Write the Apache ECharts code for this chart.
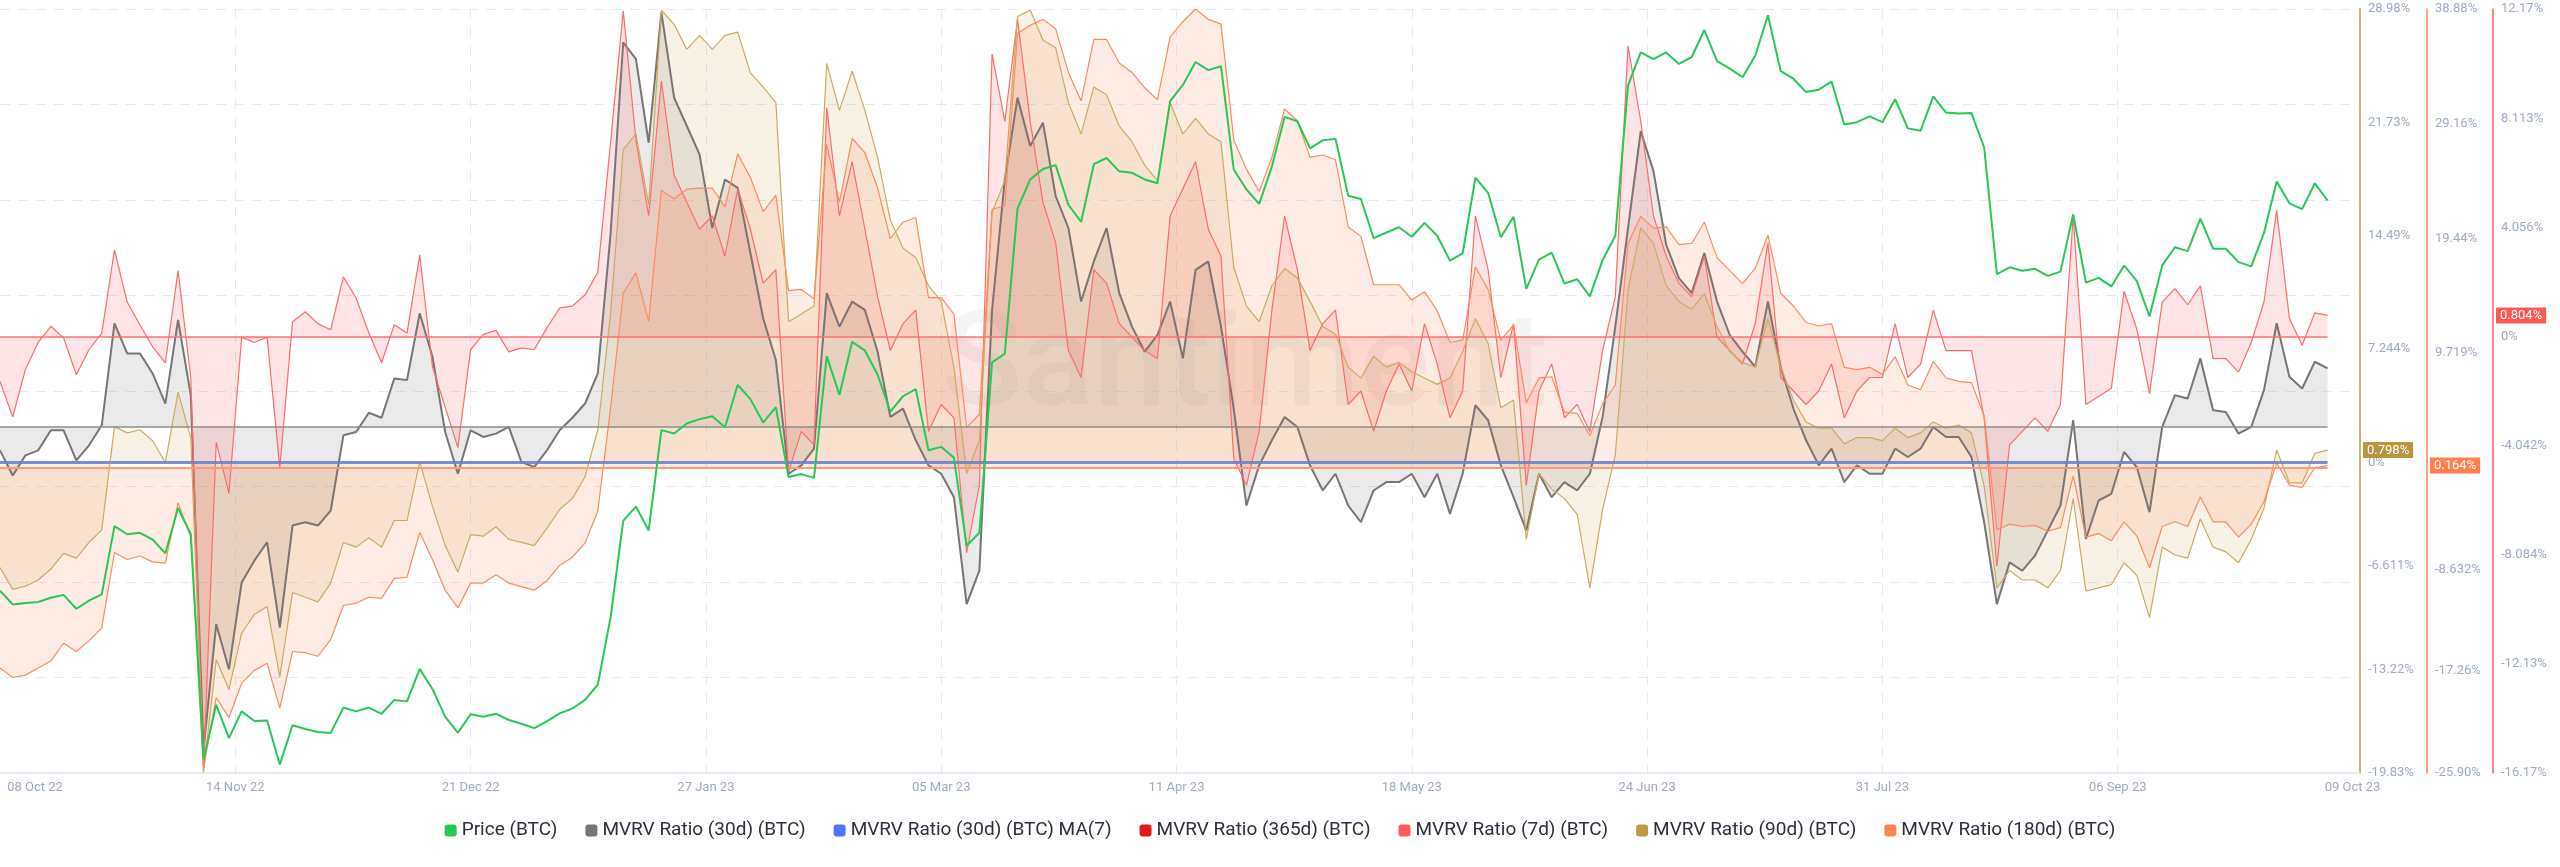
<!DOCTYPE html>
<html><head><meta charset="utf-8">
<script src="https://cdn.jsdelivr.net/npm/echarts@6/dist/echarts.min.js"></script>
<style>html,body{margin:0;padding:0;background:#fff}#c{width:2560px;height:867px}</style>
</head><body><div id="c"></div>
<script>
// ---- data (one sample every DAY_STEP days, starting 08 Oct 22) ----
const DAY_STEP = 2;
const xTickDays = [0,37,74,111,148,185,222,259,296,333,366];
const xTickLabels = ['08 Oct 22','14 Nov 22','21 Dec 22','27 Jan 23','05 Mar 23','11 Apr 23','18 May 23','24 Jun 23','31 Jul 23','06 Sep 23','09 Oct 23'];
const xGridDays = [37,74,111,148,185,222,259,296,333];

const ticks90 = [28.98, 21.73, 14.49, 7.244, 0, -6.611, -13.22, -19.83];
const ticks180 = [38.88, 29.16, 19.44, 9.719, 0, -8.632, -17.26, -25.90];
const ticks7 = [12.17, 8.113, 4.056, 0, -4.042, -8.084, -12.13, -16.17];

const price = [19417,19130,19160,19180,19270,19330,19040,19210,19340,20770,
20600,20630,20490,20200,21150,20600,15880,17030,16330,16890,
16690,16700,15780,16600,16520,16460,16440,16970,16890,16970,
16840,17130,17100,17780,17360,16780,16440,16830,16780,16840,
16710,16630,16540,16680,16850,16950,17130,17450,18850,20880,
21180,20680,22780,22710,22920,23010,23070,22840,23730,23430,
22940,23260,21800,21860,21780,24330,23520,24630,24450,23940,
23170,23490,23640,22360,22430,22200,20360,20630,24200,24380,
27420,28030,28250,28330,27500,27140,28350,28480,28200,28170,
28030,27950,29670,30010,30490,30320,30400,28240,27820,27520,
28300,29340,29250,28680,28850,28880,27690,27620,26800,26920,
27030,26830,27120,26850,26330,26480,28070,27750,26820,27250,
25740,26350,26500,25850,25940,25580,26340,26850,30000,30690,
30550,30690,30450,30590,31160,30510,30350,30170,30620,31470,
30300,30140,29860,29910,30080,29180,29230,29350,29230,29710,
29100,29050,29770,29430,29410,29420,28700,26050,26190,26120,
26160,26010,26100,27300,25870,25970,25790,26230,25900,25160,
26230,26610,26530,27210,26580,26580,26300,26210,26910,27990,
27530,27410,27950,27590];

const mvrv30 = [-1.4,-2.9,-1.7,-1.4,-0.2,-0.2,-2.0,-1.1,0.1,6.2,
4.4,4.4,3.2,1.4,6.4,1.9,-19.3,-11.8,-14.5,-9.3,
-8.0,-6.9,-12.0,-5.9,-5.7,-5.9,-5.0,-0.5,-0.3,0.85,
0.55,2.9,2.8,6.8,4.2,-0.3,-2.8,-0.2,-0.6,-0.4,
0,-2.1,-2.4,-1.4,-0.2,0.55,1.4,3.2,11.5,23.0,
22.0,17.0,24.8,19.7,18.0,16.3,11.9,14.8,14.3,10.4,
6.5,4.0,-2.8,-2.3,-1.3,8.0,6.0,7.5,7.0,4.5,
0.6,1.1,-0.8,-2.3,-2.8,-4.2,-10.6,-8.6,7.0,14.8,
19.7,16.8,18.2,13.8,11.9,7.5,9.9,11.9,8.0,6.0,
4.5,5.5,7.5,4.1,9.4,9.9,6.0,1.1,-4.7,-2.3,
-0.8,0.6,0,-2.3,-3.8,-2.8,-4.7,-5.7,-3.8,-3.3,
-3.3,-2.8,-4.2,-2.8,-5.2,-2.8,1.3,0.4,-2.3,-4.2,
-6.2,-2.8,-4.2,-3.3,-3.8,-2.8,0.6,6.0,11.9,17.7,
15.3,10.9,8.9,8.0,10.4,7.5,5.5,4.5,3.6,7.5,
3.6,1.1,-0.8,-2.3,-1.3,-3.3,-2.3,-2.8,-2.8,-1.3,
-1.8,-1.3,0,-0.6,-0.6,-1.8,-5.7,-10.6,-8.1,-8.6,
-7.7,-6.2,-4.7,0.4,-6.7,-4.4,-4.0,-1.5,-2.4,-5.1,
0,1.9,1.7,4.1,1.0,0.9,-0.4,0,2.2,6.2,
3.0,2.3,3.9,3.5];

const mvrv7 = [-1.65,-2.96,-1.2,-0.2,0.4,-0.03,-1.4,-0.47,0.15,3.24,
1.3,0.46,-0.36,-0.96,2.47,-1.5,-16.1,-3.9,-5.8,0,
-0.2,0,-4.85,0.57,0.94,0.5,0.27,2.24,1.45,0.15,
-0.95,0.46,0.15,3.05,-1.1,-2.6,-4.1,-0.47,0.1,0.25,
-0.55,-0.4,-0.47,0.34,1.08,1.15,1.57,2.4,7.2,12.1,
7.3,4.5,9.5,6.0,5.0,4.0,4.5,3.0,5.5,4.0,
2.0,2.5,-5.0,-3.5,-4.0,8.5,4.5,6.5,4.0,1.5,
-0.5,0.5,1.0,-3.5,-2.5,-3.0,-8.0,-5.5,10.5,8.0,
11.8,8.0,5.0,3.5,-0.5,-1.5,2.5,2.0,0.5,0.0,
-0.5,-0.8,4.5,5.5,6.5,4.0,3.0,-4.5,-5.5,-3.5,
1.0,4.5,2.5,-0.5,0.5,1.0,-2.5,-2.0,-3.5,-2.0,
-1.0,-2.0,0.5,-1.0,-3.0,-2.0,4.5,2.5,-1.5,0.5,
-5.5,-2.0,-1.0,-3.0,-2.5,-3.5,-0.5,1.5,10.8,8.0,
4.5,3.0,2.0,1.5,3.0,0.0,-0.5,-1.0,0.5,3.5,
-1.5,-2.0,-2.5,-2.0,-1.0,-3.0,-2.0,-1.5,-1.5,0.5,
-1.5,-1.0,1.0,-0.5,-0.5,-0.5,-3.0,-8.5,-4.0,-3.5,
-3.0,-3.5,-2.5,4.5,-2.5,-2.2,-1.9,1.7,0.3,-2.1,
1.3,1.8,1.2,1.9,-0.8,-0.8,-1.3,-0.2,1.3,4.7,
0.7,-0.3,0.9,0.804];

const mvrv90 = [-6.7,-8.1,-7.9,-7.5,-6.8,-5.8,-6.1,-5.1,-4.3,2.3,
1.9,2.1,1.4,0,4.5,1.6,-19.8,-12.6,-14.5,-10.9,
-9.7,-9.2,-13.7,-8.3,-8.6,-8.9,-7.7,-5.1,-5.4,-4.8,
-5.4,-3.7,-3.7,0.05,-2.8,-5.3,-7.0,-4.6,-4.7,-4.1,
-4.9,-5.1,-5.3,-4.2,-3.0,-2.3,-0.9,2.1,9.5,20.0,
21.0,16.5,28.9,28.0,26.4,27.3,26.4,27.3,27.5,24.9,
24.0,23.0,9.0,9.5,10.0,25.5,22.5,25.0,22.5,19.5,
15.5,13.7,13.1,11.3,10.3,6.1,-0.7,1.4,16.0,18.0,
28.5,28.9,27.0,26.5,23.0,21.0,24.0,23.5,21.5,20.5,
19.0,18.0,23.0,21.0,22.0,21.0,20.5,12.5,10.0,9.0,
11.3,12.4,11.8,10.3,8.7,8.2,6.1,5.4,6.8,6.1,
6.4,5.8,5.4,5.0,5.4,7.1,9.2,7.6,3.5,4.0,
-4.9,-0.7,-1.7,-2.3,-3.3,-8.0,-3.0,0.5,11.0,15.0,
14.0,11.3,10.3,9.8,10.8,8.7,7.1,6.4,6.1,9.2,
6.1,4.0,2.6,2.2,2.2,1.2,1.6,1.6,1.4,2.2,
1.6,1.9,2.6,2.2,2.4,1.9,-1.5,-8.0,-6.9,-7.5,
-7.5,-8.0,-6.9,-2.3,-8.2,-8.0,-7.8,-6.4,-7.2,-9.9,
-5.4,-5.9,-6.1,-3.6,-5.4,-5.7,-6.4,-4.9,-2.9,0.8,
-1.3,-1.3,0.6,0.798];

const mvrv180 = [-17.0,-17.8,-17.6,-17.0,-16.4,-14.9,-15.6,-14.7,-13.6,-7.2,
-7.8,-7.5,-8.0,-8.1,-3.0,-5.9,-25.5,-19.5,-21.2,-18.3,
-17.2,-16.6,-20.4,-15.6,-15.7,-16.0,-14.6,-11.7,-11.5,-11.0,
-11.1,-9.4,-9.3,-5.5,-7.8,-10.4,-11.9,-9.8,-9.8,-9.1,
-9.8,-10.1,-10.4,-9.6,-8.3,-7.6,-6.4,-3.7,5.0,14.8,
16.5,12.4,23.5,22.8,23.6,23.7,23.7,22.1,26.6,24.6,
21.7,23.1,15.0,15.1,14.3,27.4,22.5,27.9,26.7,23.7,
19.4,20.8,21.2,14.4,14.4,13.0,3.4,4.5,21.9,22.2,
36.8,37.5,38.0,37.2,33.5,31.1,36.3,36.3,34.3,33.5,
32.2,31.2,36.5,37.8,38.88,38.0,37.6,27.8,25.3,23.4,
26.3,30.4,29.4,26.3,26.5,26.1,20.4,19.6,15.5,15.5,
15.5,14.2,14.9,13.3,10.6,10.8,17.0,15.1,10.8,12.1,
5.5,7.6,7.7,4.7,4.6,2.7,5.4,7.0,19.0,21.3,
20.3,20.4,18.9,19.0,20.8,17.8,16.7,15.6,16.9,19.7,
14.8,13.7,12.3,12.0,12.2,8.5,8.3,8.5,7.9,9.4,
7.0,6.6,9.0,7.6,7.3,7.2,4.4,-5.3,-4.8,-5.0,
-4.9,-5.4,-5.1,-0.7,-5.9,-5.6,-6.2,-4.6,-5.8,-8.5,
-5.0,-4.6,-5.0,-2.5,-4.6,-4.6,-5.9,-4.8,-2.9,0.4,
-1.5,-1.7,0.0,0.164];

const mvrv30ma7 = [];   // not drawn in the reference (only its zero line shows)
const mvrv365 = [];     // not drawn in the reference

const seriesNames = ['Price (BTC)','MVRV Ratio (30d) (BTC)','MVRV Ratio (30d) (BTC) MA(7)','MVRV Ratio (365d) (BTC)','MVRV Ratio (7d) (BTC)','MVRV Ratio (90d) (BTC)','MVRV Ratio (180d) (BTC)'];

// ---- chart ----
const FONT = 'Roboto, "Noto Sans", sans-serif';
const LABEL_COLOR = '#9FAAC4';
const GRID_COLOR = '#E6E9F1';
const LAST_DAY = (price.length - 1) * DAY_STEP;
const pairs = arr => arr.map((v, i) => [i * DAY_STEP, v]);
const fmtPct = v => (v === 0 ? '0' : (Math.abs(v) >= 10 ? v.toFixed(2) : v.toFixed(3))) + '%';
const last = a => a[a.length - 1];

function rightAxis(min, max, ticks, lineColor, lineWidth, offset, badgeColor, lastVal) {
  return {
    type: 'value', position: 'right', offset: offset, min: min, max: max,
    axisLine: { show: true, onZero: false, lineStyle: { color: lineColor, width: lineWidth } },
    axisTick: { show: false },
    splitLine: { show: false },
    axisLabel: { show: true, customValues: ticks, formatter: fmtPct, color: LABEL_COLOR,
      fontSize: 13, fontFamily: FONT, margin: 8, showMinLabel: true, showMaxLabel: true },
    axisPointer: {
      show: true, status: 'show', value: lastVal, type: 'line', snap: false,
      triggerTooltip: false,
      lineStyle: { opacity: 0, width: 0 },
      label: { show: true, formatter: p => fmtPct(Number(p.value)), backgroundColor: badgeColor,
        color: '#fff', fontSize: 13, fontFamily: FONT, padding: [2, 4, 1, 4], margin: 3, borderRadius: 1 }
    }
  };
}

function zeroLine(color, width, opacity) {
  return { silent: true, symbol: 'none', label: { show: false }, animation: false,
    lineStyle: { type: 'solid', color: color, width: width, opacity: opacity },
    emphasis: { disabled: true },
    data: [[{ coord: [0, 0] }, { coord: [LAST_DAY, 0] }]] };
}

const chart = echarts.init(document.getElementById('c'), null, { renderer: 'canvas' });
chart.setOption({
  animation: false,
  backgroundColor: '#ffffff',
  grid: { left: 0, right: 200, top: 9, bottom: 94, containLabel: false },
  graphic: [{
    type: 'text', silent: true, z: 0, x: 1245, y: 372,
    style: { text: 'Santiment', font: '500 132px Roboto, sans-serif', fill: 'rgba(70,60,90,0.055)', align: 'center', verticalAlign: 'middle' }
  }],
  legend: {
    data: seriesNames, top: 821, left: 'center', padding: 0,
    itemWidth: 12, itemHeight: 12, itemGap: 28, icon: 'roundRect',
    textStyle: { fontSize: 19, fontFamily: FONT, color: '#2c303c' },
    selectedMode: false
  },
  xAxis: {
    type: 'value', min: 0, max: 371.1,
    axisLine: { show: true, onZero: false, lineStyle: { color: '#E3E6EF', width: 1.5 } },
    axisTick: { show: false, customValues: xGridDays },
    splitLine: { show: true, lineStyle: { color: GRID_COLOR, type: [10, 8], width: 1 } },
    axisLabel: {
      customValues: xTickDays, showMinLabel: true, showMaxLabel: true,
      color: LABEL_COLOR, fontSize: 13, fontFamily: FONT, margin: 8,
      formatter: v => {
        const i = xTickDays.indexOf(v);
        const t = xTickLabels[i];
        if (i === 0) return '{first|' + t + '}';
        if (i === xTickDays.length - 1) return '{last|' + t + '}';
        return t;
      },
      rich: {
        first: { padding: [0, 0, 0, 70], color: LABEL_COLOR, fontSize: 13, fontFamily: FONT },
        last: { padding: [0, 0, 0, 50], color: LABEL_COLOR, fontSize: 13, fontFamily: FONT }
      }
    }
  },
  yAxis: [
    { // 0: price (hidden scale, gives horizontal grid)
      type: 'value', position: 'left', min: 15600, max: 31600, interval: 2000,
      axisLine: { show: false }, axisTick: { show: false }, axisLabel: { show: false },
      splitLine: { show: true, lineStyle: { color: GRID_COLOR, type: [10, 8], width: 1 } }
    },
    { // 1: MVRV 30d (hidden)
      type: 'value', show: false, min: -20.7, max: 25, splitLine: { show: false }
    },
    rightAxis(-19.83, 28.98, ticks90, '#D3B270', 2, 0, '#B8963D', last(mvrv90)),   // 2: 90d
    rightAxis(-25.90, 38.88, ticks180, '#FF8450', 1.5, 67, '#FF7F4F', last(mvrv180)), // 3: 180d
    rightAxis(-16.17, 12.17, ticks7, '#FF5B5B', 1.5, 133, '#FF5656', last(mvrv7))     // 4: 7d
  ],
  series: [
    { name: seriesNames[0], type: 'line', yAxisIndex: 0, data: pairs(price), symbol: 'none',
      color: '#26C953', lineStyle: { width: 2, color: '#26C953' }, z: 6 },
    { name: seriesNames[1], type: 'line', yAxisIndex: 1, data: pairs(mvrv30), symbol: 'none',
      color: '#777777', lineStyle: { width: 2, color: '#7a7474' },
      areaStyle: { color: '#7a7a7a', opacity: 0.16 }, z: 3,
      markLine: zeroLine('#8c8c8c', 1.5, 1) },
    { name: seriesNames[2], type: 'line', yAxisIndex: 2, data: pairs(mvrv30ma7), symbol: 'none',
      color: '#5275FF', lineStyle: { width: 2, color: '#5275FF' }, z: 3,
      markLine: zeroLine('#6f7fd0', 3, 0.9) },
    { name: seriesNames[3], type: 'line', yAxisIndex: 4, data: pairs(mvrv365), symbol: 'none',
      color: '#E01B1B', lineStyle: { width: 1.5, color: '#E01B1B' }, z: 3 },
    { name: seriesNames[4], type: 'line', yAxisIndex: 4, data: pairs(mvrv7), symbol: 'none',
      color: '#FF5B5B', lineStyle: { width: 1.2, color: '#FF6B6B' },
      areaStyle: { color: '#FF5B5B', opacity: 0.16 }, z: 3,
      markLine: zeroLine('#FF6E6E', 1.5, 1) },
    { name: seriesNames[5], type: 'line', yAxisIndex: 2, data: pairs(mvrv90), symbol: 'none',
      color: '#BE9A48', lineStyle: { width: 1.2, color: '#CDAA5E' },
      areaStyle: { color: '#C9A458', opacity: 0.15 }, z: 3 },
    { name: seriesNames[6], type: 'line', yAxisIndex: 3, data: pairs(mvrv180), symbol: 'none',
      color: '#FF8450', lineStyle: { width: 1.2, color: '#FF8A5C' },
      areaStyle: { color: '#FF8450', opacity: 0.15 }, z: 3,
      markLine: zeroLine('#FF9A72', 1.8, 1) }
  ]
});
</script>
</body></html>
